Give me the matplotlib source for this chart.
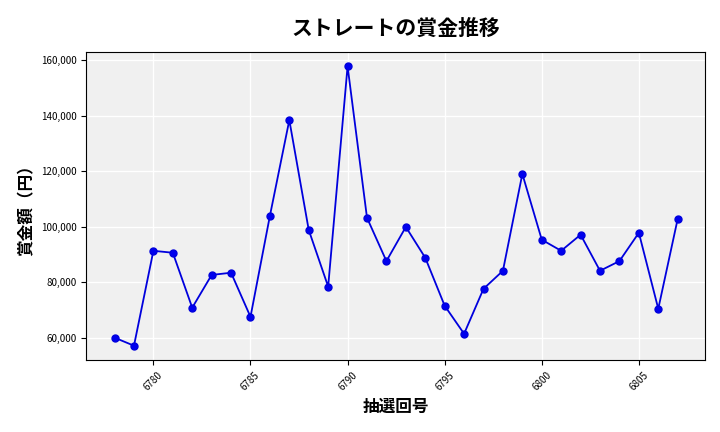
import matplotlib
matplotlib.use('Agg')
import matplotlib.pyplot as plt
from matplotlib.ticker import FuncFormatter

plt.rcParams['font.family'] = ['Noto Sans CJK JP', 'DejaVu Sans']

draws = list(range(6778, 6808))
prizes = [60000, 57100, 91300, 90600, 70800, 82600, 83400, 67500, 103900, 138400,
          98800, 78400, 157800, 103200, 87600, 99900, 88800, 71500, 61400, 77600,
          84100, 119000, 95300, 91300, 97100, 84100, 87600, 97800, 70400, 102800]

fig = plt.figure(figsize=(7.2, 4.32), dpi=100)
ax = fig.add_axes([0.12, 0.167, 0.859, 0.713])
ax.set_facecolor('#f0f0f0')
ax.grid(True, color='white', linewidth=1)
ax.set_axisbelow(True)
ax.plot(draws, prizes, color='#0000dd', marker='o', markersize=5, linewidth=1.3,
        markerfacecolor='#0000ee')
ax.set_title('ストレートの賞金推移', fontsize=15, fontweight='bold', pad=12)
ax.set_xlabel('抽選回号', fontsize=12, fontweight='bold')
ax.set_ylabel('賞金額（円）', fontsize=12, fontweight='bold')
ax.yaxis.set_major_formatter(FuncFormatter(lambda v, p: f'{int(v):,}'))
ax.set_xticks(range(6780, 6806, 5))
ax.tick_params(axis='x', labelrotation=45, labelsize=7)
ax.tick_params(axis='y', labelsize=7)
ax.set_ylim(52000, 163000)
ax.set_xlim(6776.55, 6808.4)
fig.savefig('out.png')
